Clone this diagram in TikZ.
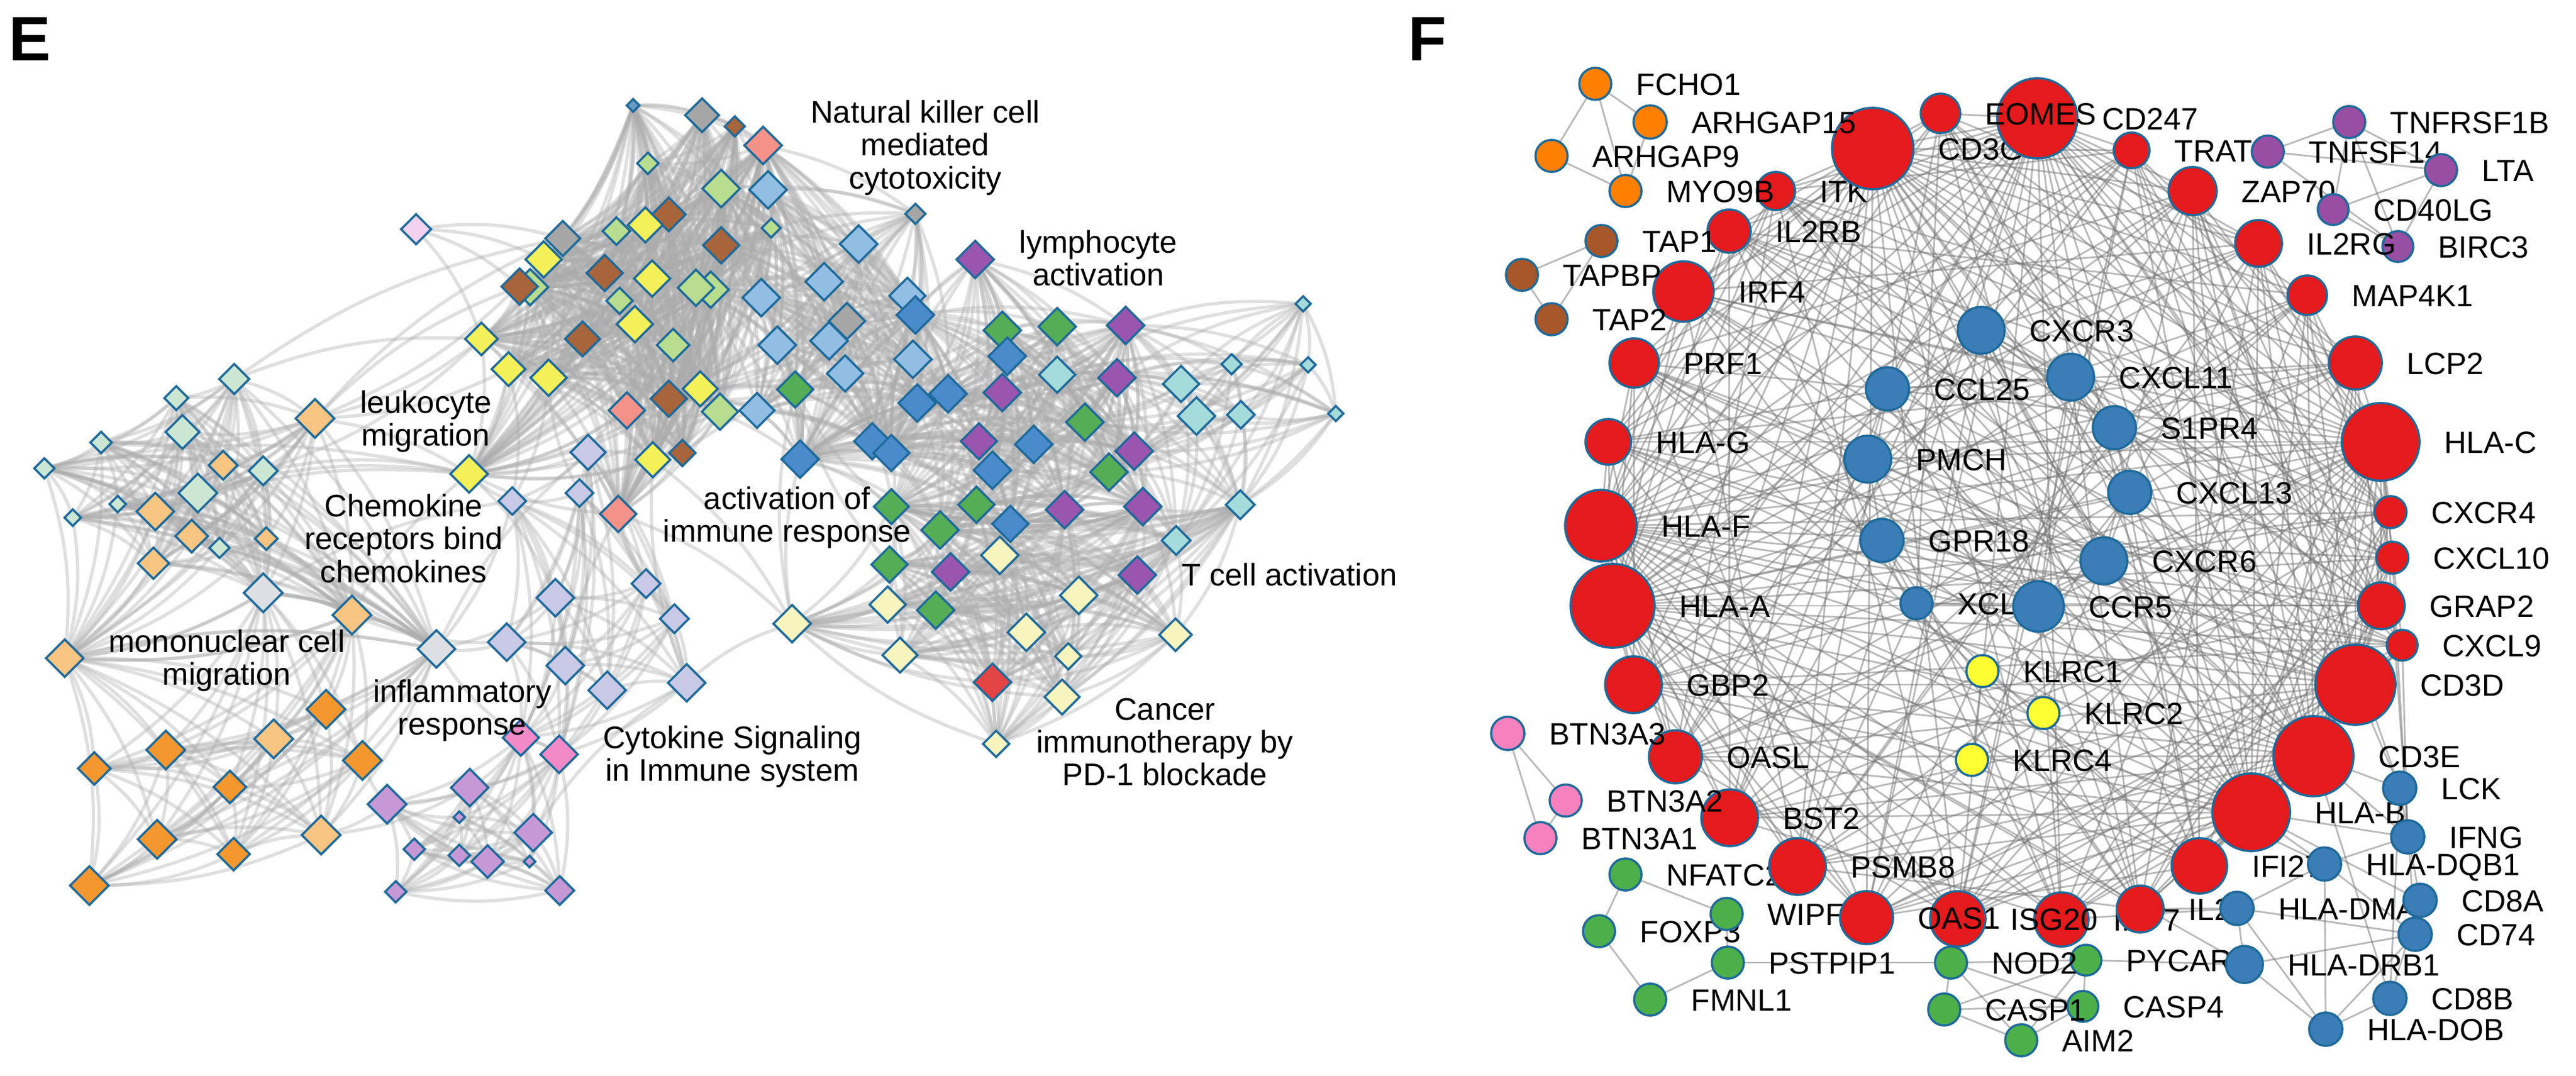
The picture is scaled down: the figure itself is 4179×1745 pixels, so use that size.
\documentclass[tikz,border=0pt]{standalone}
\usepackage{fontspec}
\setmainfont{Liberation Sans}
\usetikzlibrary{shapes.geometric}
\pgfdeclarelayer{bg}
\pgfsetlayers{bg,main}
\definecolor{eborder}{HTML}{1E6A9B}
\definecolor{emint}{HTML}{CBE7D3}
\definecolor{elor}{HTML}{F8C482}
\definecolor{eor}{HTML}{F5972F}
\definecolor{elgray}{HTML}{DDDFE3}
\definecolor{elav}{HTML}{C8C8E7}
\definecolor{epink}{HTML}{F28AC8}
\definecolor{elpur}{HTML}{C698D6}
\definecolor{epyel}{HTML}{F8F4BE}
\definecolor{eyel}{HTML}{F3F05A}
\definecolor{ebrown}{HTML}{A8643A}
\definecolor{elgreen}{HTML}{B8DD8E}
\definecolor{egray}{HTML}{A6A6A6}
\definecolor{esalmon}{HTML}{F4928A}
\definecolor{elblue}{HTML}{92BEE3}
\definecolor{emblue}{HTML}{4A8BCB}
\definecolor{egreen}{HTML}{55AD55}
\definecolor{epurple}{HTML}{9A55AE}
\definecolor{elteal}{HTML}{A6DBDB}
\definecolor{ered}{HTML}{E34444}
\definecolor{elpink}{HTML}{F2D2EE}
\definecolor{esblue}{HTML}{6A9BC2}
\definecolor{fred}{HTML}{E41A1C}
\definecolor{fblue}{HTML}{3A7DB7}
\definecolor{forange}{HTML}{FF7F00}
\definecolor{fbrown}{HTML}{A65628}
\definecolor{fpurple}{HTML}{984EA3}
\definecolor{fyellow}{HTML}{FFFF33}
\definecolor{fpink}{HTML}{F781BF}
\definecolor{fgreen}{HTML}{4DAF4A}
\tikzset{
  ediam/.style={diamond, aspect=1, draw=eborder, line width=1pt, inner sep=0pt},
  fcirc/.style={circle, draw=eborder, line width=1pt, inner sep=0pt},
  eedge/.style={draw=black!33, line width=1.5pt, opacity=0.38},
  fedge/.style={draw=black!55, line width=0.8pt, opacity=0.5},
  elab/.style={font=\fontsize{14.4}{15.2}\selectfont, align=center, anchor=north, inner sep=0pt},
  flab/.style={font=\fontsize{14.2}{16}\selectfont, anchor=base west, inner sep=0pt},
  panel/.style={font=\fontsize{29}{32}\selectfont\bfseries, anchor=base west, inner sep=0pt}
}
\newcommand\EN[5]{\node[ediam, fill=#5, minimum size=#4*0.02cm] (#1) at (#2,#3) {};}
\newcommand\FN[6]{\node[fcirc, fill=#5, minimum size=#4*0.02cm] (#1) at (#2,#3) {};
  \node[flab] (#1-l) at ([xshift=0.38cm,yshift=-0.18cm]#1.east) {#6};}
\newcommand\eclique[1]{\foreach \a [count=\i] in #1 {\foreach \b [count=\j] in #1 {\ifnum\j>\i\relax\draw[eedge] (\a.center) to[bend left=12] (\b.center);\fi}}}
\def\GAa{a1,a2,a3,a4,a5,a6,a7,a8,a9,a10,a11,a12,a13,a14,a15,a16,a17,a18,a19,a20}
\def\GAb{a17,a18,a19,a20,a21,a22,a23,a24,a25,a26,a27,a28,a29,a30}
\def\GBa{b2,b3,b4,b5,b6,b7,b8,b9,b10,b11,b12,b13}
\def\GBb{b12,b13,b14,b15,b16,b17,b18,b19,b20,b21,b22,b23}
\def\GCa{c1,c2,c3,c4,c5,c6,c8,c9,c10,c11,c12,c13,c14,c16,c17,c18,c19,c20,c21,c24,c25,c26,c27,c28,c32,c33,c35,c36,c37,c40,c41,c42,c43,c44}
\def\GCb{c4,c6,c7,c14,c15,c21,c22,c23,c29,c30,c31,c34,c36,c38,c39,c45,c46,c47,d1,d2,d3,d4,d19,d20}
\def\GDa{d1,d2,d3,d4,d5,d6,d7,d8,d9,d10,d11,d19,d20,d21,d22,d23,d24,d25,d26,d27,d29,d30,d31,d32,d33,d34}
\def\GDb{d28,d29,d30,d31,d32,d33,d34,d35,d36,d37,d38,d39,d40,d41,d42,d43,d44,d45,d46,d47,d48,d49,d50}
\def\GDc{d8,d10,d11,d12,d13,d14,d15,d16,d17,d18,d22,d25,d26,d28,d35}
\def\Rlist{ITK/0,CD3G/1,EOMES/0,CD247/1,TRAT1/0,ZAP70/0,IL2RG/0,MAP4K1/0,LCP2/0,HLAC/1,CXCR4/0,CXCL10/0,GRAP2/0,CXCL9/0,CD3D/1,CD3E/1,HLAB/1,IFI27/0,IL21/0,IRF7/0,ISG20/0,OAS1/0,PSMB8/0,BST2/0,OASL/0,GBP2/0,HLAA/1,HLAF/1,HLAG/0,PRF1/0,IRF4/0,IL2RB/0}
\def\Blist{CXCR3,CCL25,CXCL11,S1PR4,PMCH,CXCL13,GPR18,CXCR6,XCL1,CCR5}
\begin{document}
\begin{tikzpicture}[x=0.01cm, y=-0.01cm]
\useasboundingbox (0,0) rectangle (4179,1745);
\node[panel] (panelE) at (14,98) {E};
\node[panel] (panelF) at (2284,98) {F};
% ---------------- Panel E nodes
\EN{b1}{675}{372}{25}{elpink}
\EN{a1}{380}{615}{25}{emint}
\EN{a2}{286}{646}{20}{emint}
\EN{a3}{511}{679}{32}{elor}
\EN{a4}{296}{701}{28}{emint}
\EN{a5}{164}{718}{18}{emint}
\EN{a6}{72}{760}{17}{emint}
\EN{a7}{362}{755}{24}{elor}
\EN{a8}{427}{764}{24}{emint}
\EN{a9}{321}{800}{32}{emint}
\EN{a10}{191}{818}{14}{emint}
\EN{a11}{118}{840}{14}{emint}
\EN{a12}{252}{830}{31}{elor}
\EN{a13}{311}{870}{27}{elor}
\EN{a14}{432}{874}{19}{elor}
\EN{a15}{356}{889}{17}{emint}
\EN{a16}{249}{914}{26}{elor}
\EN{a17}{427}{962}{32}{elgray}
\EN{a18}{571}{998}{32}{elor}
\EN{a19}{105}{1068}{31}{elor}
\EN{a20}{708}{1053}{31}{elgray}
\EN{a21}{529}{1151}{32}{eor}
\EN{a22}{444}{1199}{32}{elor}
\EN{a23}{269}{1217}{32}{eor}
\EN{a24}{153}{1247}{27}{eor}
\EN{a25}{588}{1234}{32}{eor}
\EN{a26}{373}{1277}{27}{eor}
\EN{a27}{255}{1362}{32}{eor}
\EN{a28}{379}{1386}{27}{eor}
\EN{a29}{521}{1355}{32}{elor}
\EN{a30}{145}{1437}{32}{eor}
\EN{b2}{954}{734}{29}{elav}
\EN{b3}{940}{800}{23}{elav}
\EN{b4}{831}{813}{23}{elav}
\EN{b5}{1048}{947}{24}{elav}
\EN{b6}{901}{970}{31}{elav}
\EN{b7}{1094}{1004}{24}{elav}
\EN{b8}{822}{1042}{31}{elav}
\EN{b9}{917}{1080}{31}{elav}
\EN{b10}{985}{1120}{31}{elav}
\EN{b11}{1114}{1108}{31}{elav}
\EN{b12}{845}{1197}{30}{epink}
\EN{b13}{907}{1224}{31}{epink}
\EN{b14}{762}{1278}{31}{elpur}
\EN{b15}{745}{1326}{10}{elpur}
\EN{b16}{865}{1351}{31}{elpur}
\EN{b17}{745}{1388}{18}{elpur}
\EN{b18}{791}{1398}{27}{elpur}
\EN{b19}{859}{1398}{10}{elpur}
\EN{b20}{908}{1445}{24}{elpur}
\EN{b21}{628}{1305}{32}{elpur}
\EN{b22}{672}{1378}{18}{elpur}
\EN{b23}{642}{1447}{18}{elpur}
\EN{c1}{1027}{171}{11}{esblue}
\EN{c2}{1139}{187}{28}{egray}
\EN{c3}{1192}{205}{17}{ebrown}
\EN{c4}{1238}{236}{31}{esalmon}
\EN{c5}{1051}{265}{18}{elgreen}
\EN{c6}{1170}{306}{31}{elgreen}
\EN{c7}{1246}{308}{31}{elblue}
\EN{c8}{1085}{348}{28}{ebrown}
\EN{c10}{1000}{375}{23}{elgreen}
\EN{c9}{1047}{365}{29}{eyel}
\EN{c11}{1251}{370}{16}{elgreen}
\EN{c12}{913}{387}{29}{egray}
\EN{c13}{882}{421}{30}{eyel}
\EN{c14}{1170}{398}{30}{ebrown}
\EN{c15}{1393}{396}{31}{elblue}
\EN{c16}{860}{466}{30}{elgreen}
\EN{c17}{843}{465}{30}{ebrown}
\EN{c18}{981}{443}{30}{ebrown}
\EN{c19}{1058}{452}{30}{eyel}
\EN{c20}{1153}{470}{30}{elgreen}
\EN{c21}{1129}{467}{30}{elgreen}
\EN{c22}{1235}{483}{31}{elblue}
\EN{c23}{1337}{457}{31}{elblue}
\EN{c24}{1005}{488}{22}{elgreen}
\EN{c25}{1030}{526}{30}{eyel}
\EN{c26}{781}{550}{27}{eyel}
\EN{c27}{945}{550}{29}{ebrown}
\EN{c28}{1092}{560}{27}{elgreen}
\EN{c29}{1261}{560}{31}{elblue}
\EN{c30}{1374}{521}{30}{egray}
\EN{c31}{1345}{553}{31}{elblue}
\EN{c32}{825}{599}{28}{eyel}
\EN{c33}{890}{613}{30}{eyel}
\EN{c34}{1371}{606}{30}{elblue}
\EN{c35}{1136}{631}{29}{eyel}
\EN{c36}{1085}{647}{30}{ebrown}
\EN{c37}{1168}{668}{30}{elgreen}
\EN{c38}{1228}{666}{29}{elblue}
\EN{c39}{1290}{632}{30}{egreen}
\EN{c40}{1017}{666}{30}{esalmon}
\EN{c41}{1059}{746}{29}{eyel}
\EN{c42}{1107}{735}{22}{ebrown}
\EN{c43}{1003}{834}{30}{esalmon}
\EN{c44}{761}{769}{31}{eyel}
\EN{c45}{1485}{347}{17}{egray}
\EN{c46}{1472}{480}{30}{elblue}
\EN{c47}{1481}{583}{31}{elblue}
\EN{d1}{1298}{745}{31}{emblue}
\EN{d2}{1415}{716}{30}{emblue}
\EN{d3}{1446}{735}{30}{emblue}
\EN{d4}{1485}{511}{31}{emblue}
\EN{d5}{1582}{421}{31}{epurple}
\EN{d6}{1626}{536}{31}{egreen}
\EN{d7}{1715}{530}{31}{egreen}
\EN{d8}{1826}{528}{31}{epurple}
\EN{d9}{1634}{578}{31}{emblue}
\EN{d10}{1715}{608}{30}{elteal}
\EN{d11}{1812}{613}{31}{epurple}
\EN{d12}{1916}{623}{30}{elteal}
\EN{d13}{1998}{591}{17}{elteal}
\EN{d14}{2114}{493}{13}{elteal}
\EN{d15}{2122}{592}{13}{elteal}
\EN{d16}{2167}{671}{13}{elteal}
\EN{d17}{2013}{673}{23}{elteal}
\EN{d18}{1941}{675}{31}{elteal}
\EN{d19}{1488}{654}{31}{emblue}
\EN{d20}{1538}{639}{31}{emblue}
\EN{d21}{1626}{637}{31}{epurple}
\EN{d22}{1760}{685}{31}{egreen}
\EN{d23}{1588}{716}{30}{epurple}
\EN{d24}{1677}{721}{31}{emblue}
\EN{d25}{1840}{732}{31}{epurple}
\EN{d26}{1799}{766}{31}{egreen}
\EN{d27}{1610}{763}{31}{emblue}
\EN{d28}{2012}{819}{24}{elteal}
\EN{d29}{1584}{819}{30}{egreen}
\EN{d30}{1727}{827}{31}{epurple}
\EN{d31}{1854}{822}{31}{epurple}
\EN{d32}{1446}{822}{29}{egreen}
\EN{d33}{1525}{860}{31}{egreen}
\EN{d34}{1639}{850}{30}{emblue}
\EN{d35}{1908}{877}{24}{elteal}
\EN{d36}{1622}{901}{31}{epyel}
\EN{d37}{1443}{916}{30}{egreen}
\EN{d38}{1542}{928}{31}{epurple}
\EN{d39}{1845}{933}{31}{epurple}
\EN{d40}{1750}{966}{31}{epyel}
\EN{d41}{1440}{981}{30}{epyel}
\EN{d42}{1518}{990}{31}{egreen}
\EN{d43}{1665}{1026}{31}{epyel}
\EN{d44}{1907}{1030}{27}{epyel}
\EN{d45}{1460}{1063}{29}{epyel}
\EN{d46}{1733}{1065}{22}{epyel}
\EN{d47}{1610}{1107}{31}{ered}
\EN{d48}{1723}{1131}{29}{epyel}
\EN{d49}{1616}{1207}{22}{epyel}
\EN{d50}{1285}{1012}{31}{epyel}
% ---------------- Panel E labels
\node[elab] (lNK) at (1501,162) {Natural killer cell\\mediated\\cytotoxicity};
\node[elab] (lLymph) at (1782,373) {lymphocyte\\activation};
\node[elab] (lLeuk) at (691,633) {leukocyte\\migration};
\node[elab] (lChem) at (655,801) {Chemokine\\receptors bind\\chemokines};
\node[elab] (lAct) at (1277,789) {activation of\\immune response};
\node[elab] (lTcell) at (2092,913) {T cell activation};
\node[elab] (lMono) at (368,1021) {mononuclear cell\\migration};
\node[elab] (lInfl) at (750,1102) {inflammatory\\response};
\node[elab] (lCyto) at (1188,1177) {Cytokine Signaling\\in Immune system};
\node[elab] (lCanc) at (1890,1132) {Cancer\\immunotherapy by\\PD-1 blockade};
% ---------------- Panel F nodes (drawing order sets which label a node hides)
\FN{NFATC2}{2637}{1419}{26}{fgreen}{NFATC2}
\FN{FOXP3}{2594}{1511}{26}{fgreen}{FOXP3}
\FN{WIPF1}{2801}{1483}{26}{fgreen}{WIPF1}
\FN{PSTPIP1}{2803}{1562}{26}{fgreen}{PSTPIP1}
\FN{FMNL1}{2677}{1622}{26}{fgreen}{FMNL1}
\FN{ITK}{2881}{310}{31}{fred}{ITK}
\FN{IL2RB}{2805}{375}{35}{fred}{IL2RB}
\FN{IRF4}{2731}{473}{49}{fred}{IRF4}
\FN{PRF1}{2651}{589}{40}{fred}{PRF1}
\FN{HLAG}{2609}{717}{37}{fred}{HLA-G}
\FN{HLAF}{2597}{853}{58}{fred}{HLA-F}
\FN{HLAA}{2616}{983}{68}{fred}{HLA-A}
\FN{GBP2}{2650}{1111}{46}{fred}{GBP2}
\FN{OASL}{2718}{1228}{43}{fred}{OASL}
\FN{BST2}{2806}{1327}{46}{fred}{BST2}
\FN{PSMB8}{2916}{1406}{46}{fred}{PSMB8}
\FN{IRF7}{3344}{1492}{44}{fred}{IRF7}
\FN{IL21}{3472}{1475}{38}{fred}{IL21}
\FN{ISG20}{3176}{1491}{45}{fred}{ISG20}
\FN{OAS1}{3028}{1489}{43}{fred}{OAS1}
\FN{IFI27}{3568}{1405}{45}{fred}{IFI27}
\FN{HLAB}{3652}{1318}{63}{fred}{HLA-B}
\FN{CD3E}{3753}{1227}{65}{fred}{CD3E}
\FN{CD3D}{3821}{1111}{65}{fred}{CD3D}
\FN{CXCL9}{3897}{1047}{25}{fred}{CXCL9}
\FN{GRAP2}{3863}{983}{38}{fred}{GRAP2}
\FN{CXCL10}{3881}{905}{26}{fred}{CXCL10}
\FN{CXCR4}{3878}{831}{26}{fred}{CXCR4}
\FN{HLAC}{3862}{717}{63}{fred}{HLA-C}
\FN{LCP2}{3821}{589}{43}{fred}{LCP2}
\FN{MAP4K1}{3743}{479}{32}{fred}{MAP4K1}
\FN{TRAT1}{3458}{244}{29}{fred}{TRAT1}
\FN{ZAP70}{3557}{310}{39}{fred}{ZAP70}
\FN{CD3G}{3038}{241}{66}{fred}{CD3G}
\FN{CD247}{3305}{192}{65}{fred}{CD247}
\FN{EOMES}{3148}{184}{32}{fred}{EOMES}
\FN{FCHO1}{2588}{136}{26}{forange}{FCHO1}
\FN{ARHGAP15}{2677}{198}{27}{forange}{ARHGAP15}
\FN{ARHGAP9}{2517}{253}{26}{forange}{ARHGAP9}
\FN{MYO9B}{2637}{310}{26}{forange}{MYO9B}
\FN{TAP1}{2598}{391}{26}{fbrown}{TAP1}
\FN{TAPBP}{2469}{446}{26}{fbrown}{TAPBP}
\FN{TAP2}{2517}{518}{26}{fbrown}{TAP2}
\FN{BTN3A3}{2446}{1190}{27}{fpink}{BTN3A3}
\FN{BTN3A2}{2540}{1299}{26}{fpink}{BTN3A2}
\FN{BTN3A1}{2499}{1360}{26}{fpink}{BTN3A1}
\FN{PYCARD}{3384}{1558}{25}{fgreen}{PYCARD}
\FN{NOD2}{3165}{1562}{26}{fgreen}{NOD2}
\FN{CASP4}{3379}{1633}{25}{fgreen}{CASP4}
\FN{CASP1}{3154}{1638}{26}{fgreen}{CASP1}
\FN{AIM2}{3279}{1688}{26}{fgreen}{AIM2}
\FN{CXCR3}{3214}{536}{38}{fblue}{CXCR3}
\FN{CCL25}{3062}{631}{35}{fblue}{CCL25}
\FN{CXCL11}{3359}{612}{38}{fblue}{CXCL11}
\FN{S1PR4}{3430}{694}{35}{fblue}{S1PR4}
\FN{PMCH}{3030}{745}{38}{fblue}{PMCH}
\FN{CXCL13}{3455}{799}{35}{fblue}{CXCL13}
\FN{GPR18}{3053}{877}{35}{fblue}{GPR18}
\FN{CXCR6}{3413}{910}{38}{fblue}{CXCR6}
\FN{XCL1}{3109}{979}{26}{fblue}{XCL1}
\FN{CCR5}{3307}{984}{41}{fblue}{CCR5}
\FN{KLRC1}{3216}{1089}{26}{fyellow}{KLRC1}
\FN{KLRC2}{3315}{1157}{26}{fyellow}{KLRC2}
\FN{KLRC4}{3199}{1233}{26}{fyellow}{KLRC4}
\FN{HLADMA}{3629}{1474}{27}{fblue}{HLA-DMA}
\FN{HLADRB1}{3641}{1565}{30}{fblue}{HLA-DRB1}
\FN{HLADQB1}{3771}{1402}{27}{fblue}{HLA-DQB1}
\FN{LCK}{3893}{1279}{27}{fblue}{LCK}
\FN{IFNG}{3906}{1358}{27}{fblue}{IFNG}
\FN{CD8A}{3926}{1461}{27}{fblue}{CD8A}
\FN{CD74}{3918}{1516}{27}{fblue}{CD74}
\FN{CD8B}{3877}{1620}{27}{fblue}{CD8B}
\FN{HLADOB}{3773}{1670}{27}{fblue}{HLA-DOB}
\FN{TNFRSF1B}{3811}{198}{26}{fpurple}{TNFRSF1B}
\FN{TNFSF14}{3679}{246}{26}{fpurple}{TNFSF14}
\FN{LTA}{3960}{276}{26}{fpurple}{LTA}
\FN{CD40LG}{3785}{340}{25}{fpurple}{CD40LG}
\FN{BIRC3}{3890}{400}{25}{fpurple}{BIRC3}
\FN{IL2RG}{3664}{395}{38}{fred}{IL2RG}
% ---------------- edges
\begin{pgfonlayer}{bg}
\eclique{\GAa}
\eclique{\GAb}
\eclique{\GBa}
\eclique{\GBb}
\eclique{\GCa}
\eclique{\GCb}
\eclique{\GDa}
\eclique{\GDb}
\eclique{\GDc}
\foreach \p/\q in {a6/c44,a3/c44,a8/c44,a18/c44,a12/c44,a9/c44,c26/a3,c26/a8,c32/a3,c13/a3,b1/c17,b1/c26,b1/c13,b1/c12,b2/c44,b4/c44,b3/c33,b2/c40,b5/c43,b7/c43,b11/d50,b11/c41,b9/c41,b6/a20,b8/a18,b8/a20,b21/a25,b21/a29,b14/a29,b16/b11,b12/a20,b4/a20,c43/d50,c41/d50,c40/c44,a17/b4,a20/b2,b2/c41,b3/c41,c33/b4,c32/b4,c44/b6,d50/d1,d50/c39,d41/d50,c39/d1,c38/d1,c43/c39,d32/c39,d37/c39,a1/c12,a3/c12,a3/c17,a1/c26}
  {\draw[eedge] (\p.center) to[bend left=12] (\q.center);}
% F: red ring
\foreach \a/\wa [count=\i] in \Rlist {
  \foreach \b/\wb [count=\j] in \Rlist {
    \ifnum\j>\i\relax
      \pgfmathtruncatemacro\k{\wa+\wb+(mod(\i*5+\j*3,4)==0)}
      \ifnum\k>0 \draw[fedge] (\a.center) -- (\b.center);\fi
    \fi}}
\foreach \a [count=\i] in \Blist {
  \foreach \b/\wb [count=\j] in \Rlist {
    \pgfmathtruncatemacro\k{mod(\i*3+\j,5)==0}
    \ifnum\k>0 \draw[fedge] (\a.center) -- (\b.center);\fi}}
\foreach \p/\q in {FCHO1/ARHGAP15,FCHO1/ARHGAP9,FCHO1/MYO9B,ARHGAP9/MYO9B,ARHGAP15/MYO9B,TAP1/TAPBP,TAPBP/TAP2,TAP1/TAP2,BTN3A3/BTN3A2,BTN3A3/BTN3A1,BTN3A2/BTN3A1,TNFRSF1B/TNFSF14,TNFRSF1B/LTA,TNFRSF1B/BIRC3,TNFRSF1B/CD40LG,TNFSF14/LTA,TNFSF14/BIRC3,LTA/CD40LG,LTA/BIRC3,CD40LG/BIRC3,KLRC1/KLRC4,KLRC1/KLRC2,NFATC2/WIPF1,NFATC2/FOXP3,FOXP3/FMNL1,FMNL1/PSTPIP1,PSTPIP1/NOD2,WIPF1/PSTPIP1,NOD2/CASP1,NOD2/PYCARD,NOD2/CASP4,NOD2/AIM2,CASP1/CASP4,CASP1/AIM2,CASP1/PYCARD,AIM2/CASP4,AIM2/PYCARD,PYCARD/CASP4,PYCARD/HLADRB1,HLADMA/HLADRB1,HLADMA/CD74,HLADMA/HLADOB,HLADMA/HLADQB1,HLADRB1/HLADOB,HLADRB1/CD74,HLADQB1/CD74,HLADQB1/HLADOB,CD74/HLADOB,CD8A/CD8B,LCK/CD8A,LCK/CD8B,LCK/CD3E,LCK/CD3D,LCK/ZAP70,IFNG/HLADQB1,HLADOB/CD8B,IFNG/CD3E,IFNG/HLAB,IFNG/CXCL9,IFNG/CXCL10,CD8A/HLAB,HLADQB1/HLAB,HLADMA/IL21,HLADRB1/HLAA,HLADQB1/HLAF,CD74/HLAC,CD8B/CD3E,HLADMA/IRF7,CXCR3/CCL25,CXCR3/CXCL11,CCL25/PMCH,PMCH/GPR18,GPR18/XCL1,XCL1/CCR5,CCR5/CXCR6,CXCR6/CXCL13,CXCL13/S1PR4,S1PR4/CXCL11,CXCR3/CCR5,CXCL11/CCR5,CCL25/CCR5,CXCR3/CXCR6,PMCH/CXCR6,GPR18/CCR5,CXCL13/CCR5,CXCL11/CXCL13,CCL25/CXCL11,CXCR3/S1PR4}
  {\draw[fedge] (\p.center) -- (\q.center);}
\end{pgfonlayer}
\end{tikzpicture}
\end{document}
